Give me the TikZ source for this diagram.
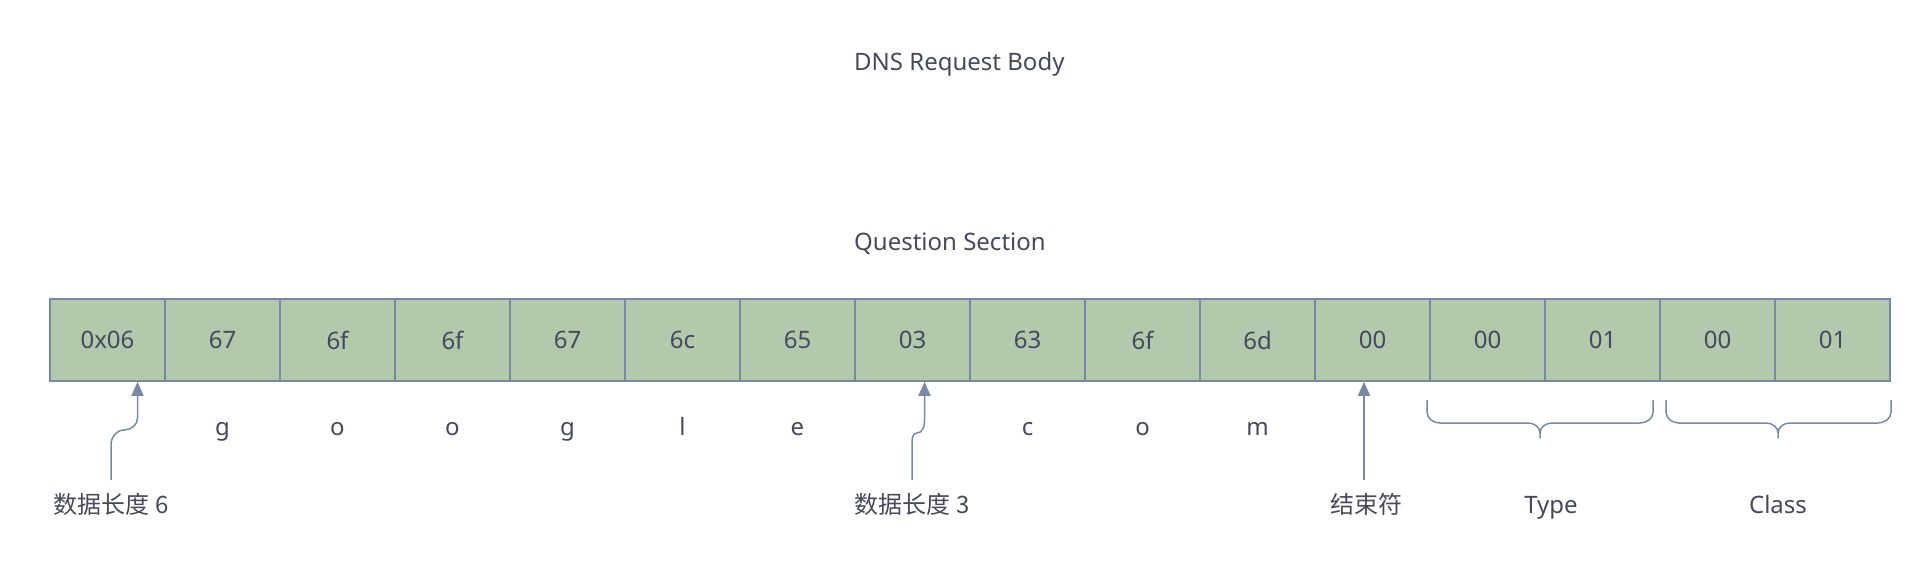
\documentclass[tikz,border=0pt]{standalone}
\usepackage{fontspec}
\setmainfont{Noto Sans}
\newfontfamily\cjk{Noto Sans CJK SC}
\usetikzlibrary{arrows.meta}
\definecolor{cellfill}{HTML}{B2C9AB}
\definecolor{edge}{HTML}{788AA3}
\definecolor{ink}{HTML}{46495D}
\tikzset{
  cell/.style={draw=edge, fill=cellfill, line width=1.5pt, minimum width=115pt, minimum height=82pt, inner sep=0pt, text=ink, font=\fontsize{24}{28}\selectfont},
  lbl/.style={text=ink, font=\fontsize{24}{28}\selectfont, inner sep=0pt},
  clbl/.style={text=ink, font=\fontsize{24}{28}\selectfont\cjk, inner sep=0pt},
  ptr/.style={draw=edge, line width=1.5pt, -{Triangle[width=12pt,length=14pt]}},
  brc/.style={draw=edge, line width=1.5pt},
}
\begin{document}
\begin{tikzpicture}[x=1pt,y=-1pt]
\useasboundingbox (0,0) rectangle (1932,562);
\node[lbl, anchor=west] (title) at (854,64) {DNS Request Body};
\node[lbl, anchor=west] (qs) at (854,244) {Question Section};
\foreach \t [count=\i from 0] in {0x06,67,6f,6f,67,6c,65,03,63,6f,6d,00,00,01,00,01} {
  \node[cell] (c\i) at ({50+115*\i+57.5},340) {\t};
}
\foreach \t/\i in {g/1,o/2,o/3,g/4,l/5,e/6,c/8,o/9,m/10} {
  \node[lbl, anchor=base] (l\i) at ({50+115*\i+57.5},435) {\t};
}
% labels
\node[clbl, anchor=base] (n6) at (111,513) {数据长度 6};
\node[clbl, anchor=base] (n3) at (912,513) {数据长度 3};
\node[clbl, anchor=base] (end) at (1366,513) {结束符};
\node[lbl, anchor=base] (type) at (1551,513) {Type};
\node[lbl, anchor=base] (class) at (1778,513) {Class};
% arrows
\coordinate (a6) at (111,480);
\coordinate (a3) at (912,480);
\coordinate (ae) at (1364,480);
\draw[ptr] (a6) -- (111,445) to[out=90,in=180] (124,430) to[out=0,in=-90] ([xshift=30pt]c0.south |- 0,418) -- ([xshift=30pt]c0.south);
\draw[ptr] (a3) -- (912,445) to[out=90,in=180] (917,433) to[out=0,in=-90] ([xshift=12pt]c7.south |- 0,421) -- ([xshift=12pt]c7.south);
\draw[ptr] (ae) -- (ae |- c11.south);
% braces
\draw[brc] (1427,400) -- (1427,412) to[out=-90,in=180] (1440,423) -- (1528,423) to[out=0,in=90] (1540,433) -- (1540,438);
\draw[brc] (1653,400) -- (1653,412) to[out=-90,in=0] (1640,423) -- (1552,423) to[out=180,in=90] (1540,433);
\draw[brc] (1666,400) -- (1666,412) to[out=-90,in=180] (1679,423) -- (1766,423) to[out=0,in=90] (1778,433) -- (1778,438);
\draw[brc] (1891,400) -- (1891,412) to[out=-90,in=0] (1878,423) -- (1790,423) to[out=180,in=90] (1778,433);
\end{tikzpicture}
\end{document}
